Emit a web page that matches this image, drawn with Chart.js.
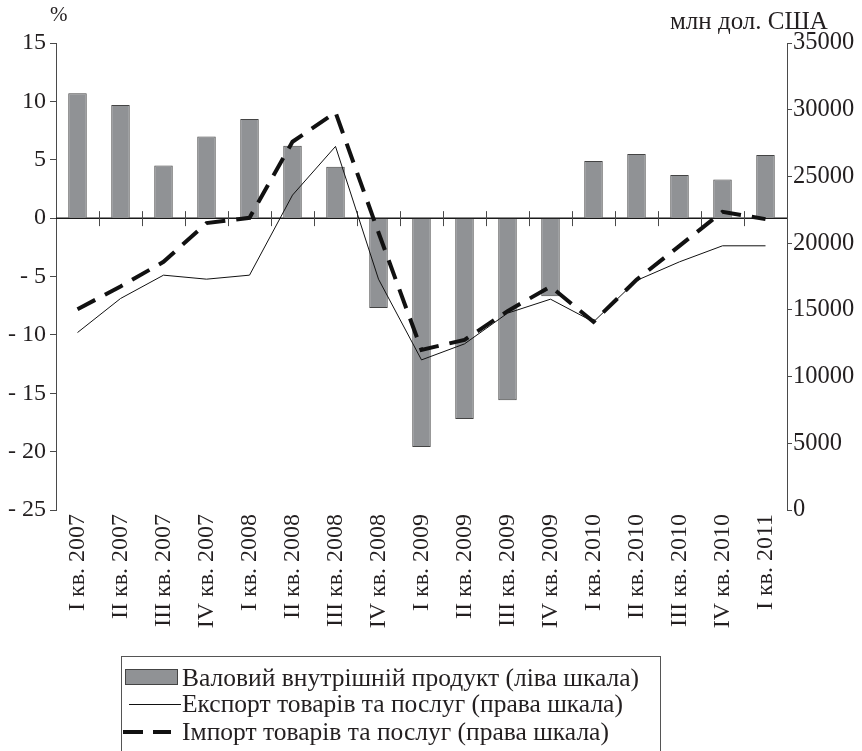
<!DOCTYPE html>
<html>
<head>
<meta charset="utf-8">
<script src="https://cdn.jsdelivr.net/npm/chart.js@4.4.1/dist/chart.umd.min.js"></script>
<style>
html,body{margin:0;padding:0;background:#fff;}
#wrap{position:relative;width:862px;height:751px;overflow:hidden;font-family:"Liberation Serif","DejaVu Serif",serif;color:#231f20;}
#c{position:absolute;left:0;top:0;}
.ttl{position:absolute;line-height:1;white-space:nowrap;}
#legend{position:absolute;left:121px;top:656px;width:540px;height:140px;border:1px solid #555;box-sizing:border-box;}
.row{position:absolute;left:0;height:28px;width:100%;}
.sym{position:absolute;}
.txt{position:absolute;left:60px;top:0;height:28px;line-height:28px;font-size:25.5px;white-space:nowrap;}
</style>
</head>
<body>
<div id="wrap">
  <canvas id="c" width="862" height="751"></canvas>
  <div class="ttl" id="lt" style="left:50px;top:4px;font-size:21px;"></div>
  <div class="ttl" id="rt" style="left:670px;top:8px;font-size:25px;"></div>
  <div id="legend"></div>
</div>
<script>
// ---- data ----
const categories = ["I кв. 2007","II кв. 2007","III кв. 2007","IV кв. 2007",
  "I кв. 2008","II кв. 2008","III кв. 2008","IV кв. 2008",
  "I кв. 2009","II кв. 2009","III кв. 2009","IV кв. 2009",
  "I кв. 2010","II кв. 2010","III кв. 2010","IV кв. 2010","I кв. 2011"];
const gdpGrowth = [10.7, 9.7, 4.5, 7.0, 8.5, 6.2, 4.4, -7.7, -19.6, -17.2, -15.6, -6.7, 4.9, 5.5, 3.7, 3.3, 5.4];
const exportsUSD = [13300, 15850, 17600, 17300, 17600, 23600, 27250, 17300, 11250, 12450, 14750, 15800, 14100, 17200, 18600, 19800, 19800];
const importsUSD = [15050, 16750, 18600, 21500, 21900, 27600, 29800, 20800, 12000, 12750, 14900, 16750, 14100, 17250, 19800, 22350, 21800];
const leftTicks = [15, 10, 5, 0, -5, -10, -15, -20, -25];
const rightTicks = [35000, 30000, 25000, 20000, 15000, 10000, 5000, 0];
const seriesNames = ["Валовий внутрішній продукт (ліва шкала)",
  "Експорт товарів та послуг (права шкала)",
  "Імпорт товарів та послуг (права шкала)"];
const leftTitle = "%";
const rightTitle = "млн дол. США";

document.getElementById('lt').textContent = leftTitle;
document.getElementById('rt').textContent = rightTitle;

const FONT = "'Liberation Serif', 'DejaVu Serif', serif";
const INK = '#231f20';
const AXIS = '#4a4a4a';

const decor = {
  id: 'decor',
  beforeDatasetsDraw(chart) {
    const {ctx, chartArea} = chart;
    const x = chart.scales.x, y = chart.scales.y;
    const y0 = y.getPixelForValue(0);
    ctx.save();
    ctx.strokeStyle = '#1a1a1a';
    ctx.lineWidth = 1.5;
    ctx.beginPath();
    ctx.moveTo(chartArea.left, y0);
    ctx.lineTo(chartArea.right, y0);
    ctx.stroke();
    ctx.lineWidth = 1;
    ctx.strokeStyle = AXIS;
    for (let i = 0; i < categories.length - 1; i++) {
      const xb = (x.getPixelForValue(i) + x.getPixelForValue(i + 1)) / 2;
      ctx.beginPath();
      ctx.moveTo(Math.round(xb) + 0.5, y0 - 7);
      ctx.lineTo(Math.round(xb) + 0.5, y0 + 8);
      ctx.stroke();
    }
    ctx.restore();
  }
};

const chart = new Chart(document.getElementById('c'), {
  type: 'bar',
  data: {
    labels: categories,
    datasets: [
      {
        type: 'bar', label: seriesNames[0], data: gdpGrowth, yAxisID: 'y', order: 3,
        backgroundColor: '#909295', borderColor: '#444', borderWidth: 1,
        barPercentage: 0.43, categoryPercentage: 1.0
      },
      {
        type: 'line', label: seriesNames[1], data: exportsUSD, yAxisID: 'y1', order: 2,
        borderColor: '#111', borderWidth: 1, pointRadius: 0, tension: 0, fill: false
      },
      {
        type: 'line', label: seriesNames[2], data: importsUSD, yAxisID: 'y1', order: 1,
        borderColor: '#111', borderWidth: 4, borderDash: [20, 11], pointRadius: 0, tension: 0, fill: false
      }
    ]
  },
  options: {
    responsive: false,
    animation: false,
    devicePixelRatio: 1,
    layout: {padding: {top: 43, left: 0, right: 0, bottom: 0}},
    plugins: {legend: {display: false}, tooltip: {enabled: false}},
    scales: {
      x: {
        type: 'category', offset: true,
        grid: {display: false, drawTicks: false},
        border: {display: false},
        ticks: {
          autoSkip: false, maxRotation: 90, minRotation: 90, padding: 4,
          color: INK, font: {family: FONT, size: 24}
        },
        afterFit(s) { s.height = 241; s.paddingLeft = 0; s.paddingRight = 0; }
      },
      y: {
        position: 'left', min: -25, max: 15,
        grid: {display: true, drawOnChartArea: false, drawTicks: true, tickLength: 6, color: AXIS},
        border: {display: true, color: AXIS, width: 1},
        ticks: {
          color: INK, padding: 4, font: {family: FONT, size: 24},
          callback: v => (v < 0 ? '- ' + Math.abs(v) : String(v))
        },
        afterBuildTicks(s) { s.ticks = leftTicks.map(v => ({value: v})); },
        afterFit(s) { s.width = 56; s.paddingTop = 0; s.paddingBottom = 0; }
      },
      y1: {
        position: 'right', min: 0, max: 35000,
        grid: {display: true, drawOnChartArea: false, drawTicks: true, tickLength: 5, color: AXIS},
        border: {display: true, color: AXIS, width: 1},
        ticks: {color: INK, padding: 1, font: {family: FONT, size: 24.5}, callback: v => String(v)},
        afterBuildTicks(s) { s.ticks = rightTicks.map(v => ({value: v})); },
        afterFit(s) { s.width = 75; s.paddingTop = 0; s.paddingBottom = 0; }
      }
    }
  },
  plugins: [decor]
});

// ---- HTML legend built from the chart's datasets ----
const legend = document.getElementById('legend');
const rowTops = [7, 33, 61];
chart.data.datasets.forEach((ds, i) => {
  const row = document.createElement('div');
  row.className = 'row';
  row.style.top = rowTops[i] + 'px';
  let sym = '';
  if (ds.type === 'bar') {
    sym = '<div class="sym" style="left:3px;top:5px;width:53px;height:16px;background:' + ds.backgroundColor + ';border:1px solid ' + ds.borderColor + ';box-sizing:border-box;"></div>';
  } else if (!ds.borderDash) {
    sym = '<div class="sym" style="left:7px;top:14px;width:52px;height:0;border-top:' + ds.borderWidth + 'px solid ' + ds.borderColor + ';"></div>';
  } else {
    sym = '<div class="sym" style="left:1px;top:12px;width:20px;height:4px;background:' + ds.borderColor + ';"></div>' +
          '<div class="sym" style="left:31px;top:12px;width:18px;height:4px;background:' + ds.borderColor + ';"></div>';
  }
  row.innerHTML = sym + '<div class="txt"></div>';
  row.querySelector('.txt').textContent = ds.label;
  legend.appendChild(row);
});
</script>
</body>
</html>
